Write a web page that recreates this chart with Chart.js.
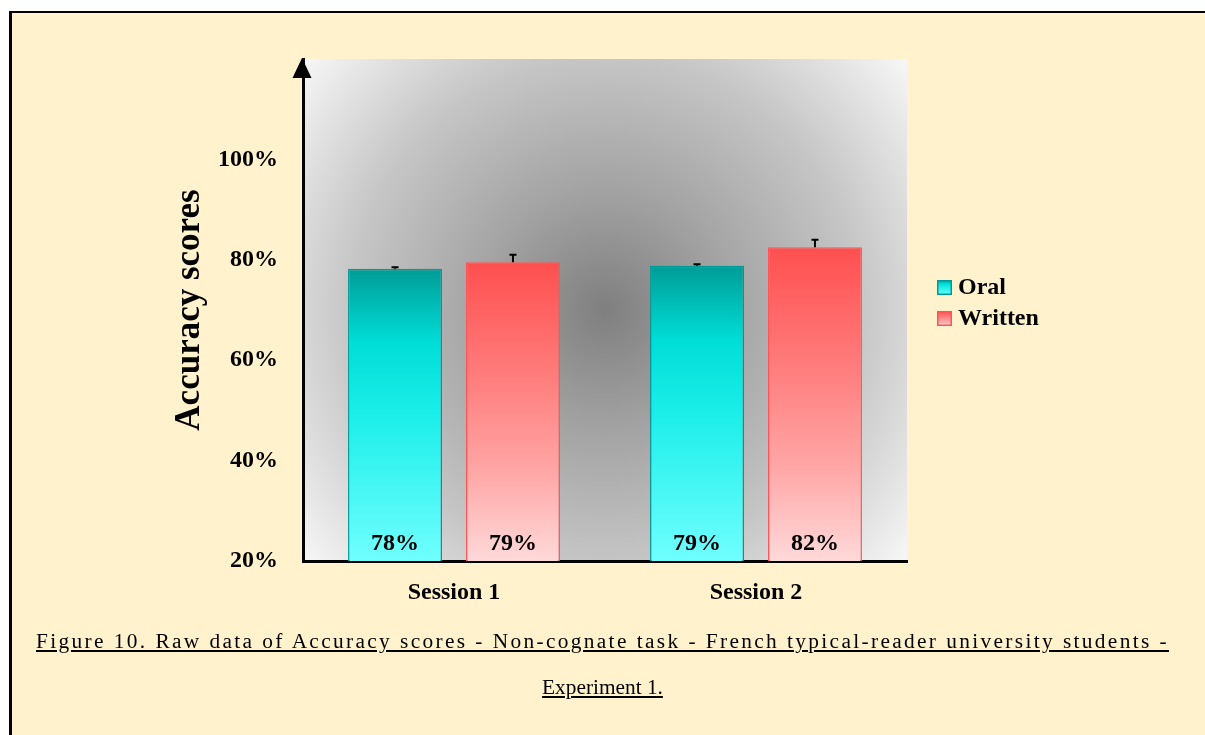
<!DOCTYPE html>
<html>
<head>
<meta charset="utf-8">
<script src="https://cdn.jsdelivr.net/npm/chart.js@4.4.1/dist/chart.umd.min.js"></script>
<style>
html,body{margin:0;padding:0;background:#fff;width:1205px;height:735px;overflow:hidden;}
#frame{position:absolute;left:9px;top:11px;width:1300px;height:800px;background:#FFF2CC;border-left:3px solid #000;border-top:2px solid #000;}
#c{position:absolute;left:0;top:0;}
.cap{position:absolute;left:36px;width:1133px;font-family:'Liberation Serif','Times New Roman',serif;font-size:21.33px;line-height:46px;color:#000;white-space:nowrap;}
.cap span{text-decoration:underline;}
#cap1{top:618px;text-align:left;}
#cap2{top:664px;text-align:center;}
</style>
</head>
<body>
<div id="frame"></div>
<canvas id="c" width="1205" height="735"></canvas>
<div class="cap" id="cap1"><span id="cap1s">Figure 10. Raw data of Accuracy scores - Non-cognate task - French typical-reader university students -</span></div>
<div class="cap" id="cap2"><span>Experiment 1.</span></div>
<script>
const categories = ['Session 1', 'Session 2'];
const seriesNames = ['Oral', 'Written'];
const oralValues = [78.2, 78.8];
const writtenValues = [79.5, 82.5];
const oralErrors = [0.3, 0.3];
const writtenErrors = [1.5, 1.5];
const oralLabels = ['78%', '79%'];
const writtenLabels = ['79%', '82%'];
const tickLabels = ['20%', '40%', '60%', '80%', '100%'];
const yMin = 20, yMax = 120, yStep = 20;

// distribute caption line 1 across the full width (characters + words)
(function () {
  const box = document.getElementById('cap1');
  const s = document.getElementById('cap1s');
  const w = s.getBoundingClientRect().width;
  const n = s.textContent.length;
  const ls = Math.max(0, (1133 - w) / n - 0.05);
  s.style.letterSpacing = ls.toFixed(2) + 'px';
  box.style.textAlign = 'justify';
  box.style.textAlignLast = 'justify';
})();

const FONT = "'Liberation Serif', 'Times New Roman', serif";
Chart.defaults.font.family = FONT;
Chart.defaults.color = '#000';

const oralStops = [[0, '#009C96'], [0.25, '#00DDD7'], [0.5, '#1CEEE9'], [1, '#70FFFF']];
const writtenStops = [[0, '#FF4F4F'], [0.4, '#FF7F7F'], [0.7, '#FFA6A6'], [1, '#FFD9D9']];

function barGradient(stops) {
  return function (ctx) {
    const chart = ctx.chart;
    const ys = chart.scales && chart.scales.y;
    if (!ys || ctx.type !== 'data') return stops[1][1];
    const top = ys.getPixelForValue(ctx.raw);
    const bottom = ys.getPixelForValue(yMin);
    if (!isFinite(top) || !isFinite(bottom) || top === bottom) return stops[1][1];
    const g = chart.ctx.createLinearGradient(0, top, 0, bottom);
    stops.forEach(s => g.addColorStop(s[0], s[1]));
    return g;
  };
}

const seriesStops = [oralStops, writtenStops];
const seriesBorders = ['#009A96', '#FF5555'];
const seriesErrors = [oralErrors, writtenErrors];
const seriesLabels = [oralLabels, writtenLabels];

const bgPlugin = {
  id: 'plotBg',
  beforeDraw(chart) {
    const {ctx, chartArea: a} = chart;
    const cx = (a.left + a.right) / 2, cy = (a.top + a.bottom) / 2;
    const r = Math.hypot(a.right - cx, a.bottom - cy);
    const g = ctx.createRadialGradient(cx, cy, 0, cx, cy, r);
    g.addColorStop(0, '#7f7f7f');
    g.addColorStop(0.3, '#a2a2a2');
    g.addColorStop(0.65, '#c6c6c6');
    g.addColorStop(1, '#f7f7f7');
    ctx.save();
    ctx.fillStyle = g;
    ctx.fillRect(a.left, a.top, a.right - a.left, a.bottom - a.top);
    ctx.restore();
  }
};

const overlayPlugin = {
  id: 'overlay',
  afterDatasetsDraw(chart) {
    const {ctx} = chart;
    const ys = chart.scales.y;
    chart.data.datasets.forEach((ds, di) => {
      const meta = chart.getDatasetMeta(di);
      meta.data.forEach((bar, i) => {
        const v = ds.data[i];
        const yTop = ys.getPixelForValue(v);
        const yErr = ys.getPixelForValue(v + seriesErrors[di][i]);
        ctx.save();
        ctx.strokeStyle = '#000';
        ctx.lineWidth = 2;
        ctx.beginPath();
        ctx.moveTo(bar.x, yTop);
        ctx.lineTo(bar.x, yErr);
        ctx.moveTo(bar.x - 3.5, yErr);
        ctx.lineTo(bar.x + 3.5, yErr);
        ctx.stroke();
        ctx.fillStyle = '#000';
        ctx.font = 'bold 24px ' + FONT;
        ctx.textAlign = 'center';
        ctx.textBaseline = 'alphabetic';
        ctx.fillText(seriesLabels[di][i], bar.x, ys.getPixelForValue(yMin) - 11);
        ctx.restore();
      });
    });
  },
  afterDraw(chart) {
    const {ctx, chartArea: a} = chart;
    ctx.save();
    ctx.fillStyle = '#000';
    ctx.beginPath();
    ctx.moveTo(a.left - 1, a.top - 1);
    ctx.lineTo(a.left - 10.5, a.top + 19);
    ctx.lineTo(a.left + 8.5, a.top + 19);
    ctx.closePath();
    ctx.fill();
    const lx = a.right + 30;
    const ly0 = 280;
    chart.data.datasets.forEach((ds, di) => {
      const y = ly0 + di * 31;
      const g = ctx.createLinearGradient(0, y, 0, y + 15);
      seriesStops[di].forEach(s => g.addColorStop(s[0], s[1]));
      ctx.fillStyle = g;
      ctx.fillRect(lx, y, 15, 15);
      ctx.strokeStyle = seriesBorders[di];
      ctx.lineWidth = 1.5;
      ctx.strokeRect(lx + 0.75, y + 0.75, 13.5, 13.5);
      ctx.fillStyle = '#000';
      ctx.font = 'bold 24px ' + FONT;
      ctx.textAlign = 'left';
      ctx.textBaseline = 'middle';
      ctx.fillText(ds.label, lx + 21, y + 8);
    });
    ctx.restore();
  }
};

new Chart(document.getElementById('c'), {
  type: 'bar',
  data: {
    labels: categories,
    datasets: [
      {label: seriesNames[0], data: oralValues, backgroundColor: barGradient(oralStops), borderColor: seriesBorders[0], borderWidth: 1.5},
      {label: seriesNames[1], data: writtenValues, backgroundColor: barGradient(writtenStops), borderColor: seriesBorders[1], borderWidth: 1.5}
    ]
  },
  options: {
    responsive: false,
    animation: false,
    devicePixelRatio: 1,
    categoryPercentage: 0.781,
    barPercentage: 0.797,
    layout: {padding: {left: 165, top: 59, right: 298, bottom: 114}},
    plugins: {legend: {display: false}, tooltip: {enabled: false}},
    scales: {
      x: {
        grid: {display: false, drawTicks: false},
        border: {display: true, color: '#000', width: 3},
        ticks: {color: '#000', font: {size: 24, weight: 'bold'}, padding: 17},
        afterFit(s) { s.height = 60; }
      },
      y: {
        min: yMin, max: yMax,
        grid: {display: false, drawTicks: false},
        border: {display: true, color: '#000', width: 3},
        ticks: {stepSize: yStep, color: '#000', font: {size: 24, weight: 'bold'}, padding: 25,
          callback: (v, i) => tickLabels[i] !== undefined ? tickLabels[i] : ''},
        title: {display: true, text: 'Accuracy scores', color: '#000', font: {size: 35, weight: 'bold'}},
        afterFit(s) { s.width = 138; }
      }
    }
  },
  plugins: [bgPlugin, overlayPlugin]
});
</script>
</body>
</html>
